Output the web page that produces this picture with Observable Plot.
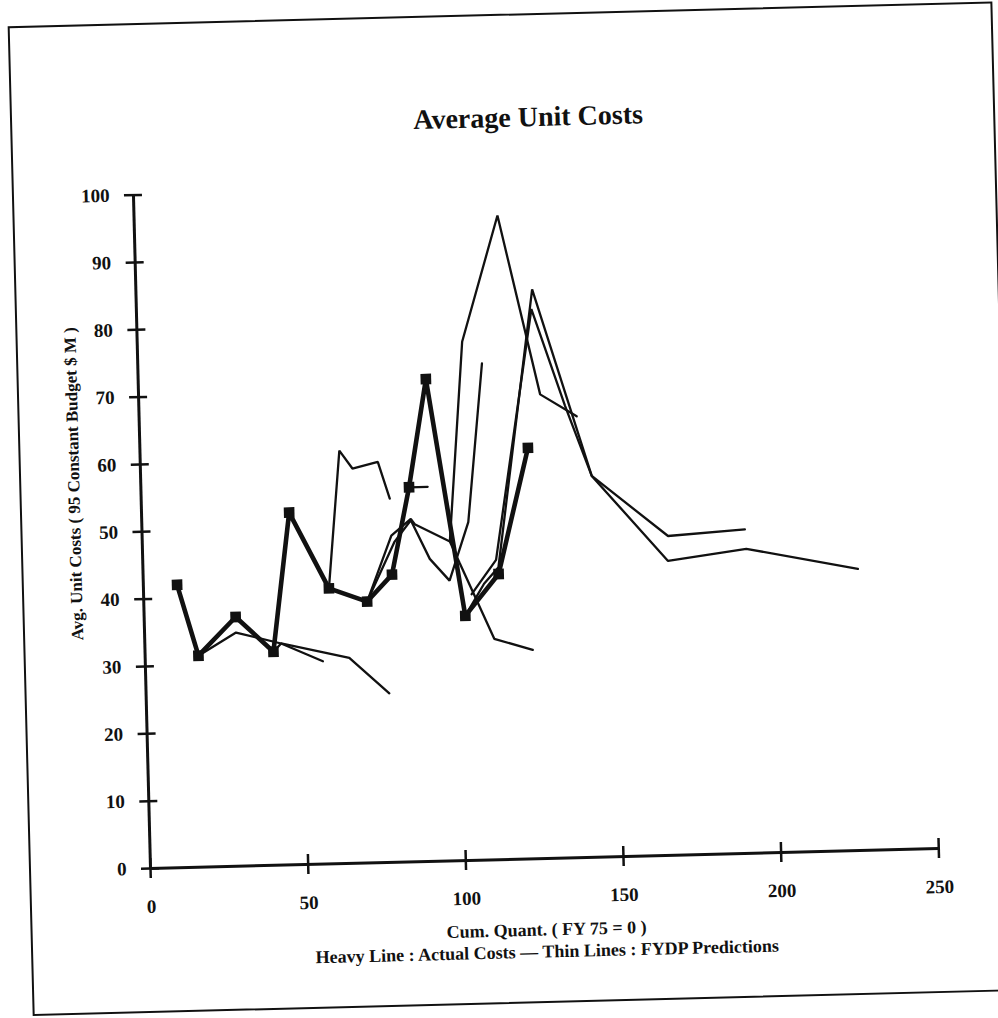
<!DOCTYPE html>
<html>
<head>
<meta charset="utf-8">
<script src="https://cdn.jsdelivr.net/npm/d3@7"></script>
<script src="https://cdn.jsdelivr.net/npm/@observablehq/plot@0.6"></script>
<style>
  html, body { margin: 0; padding: 0; background: #fff; overflow: hidden; width: 998px; height: 1018px; }
  #page { position: absolute; left: 0; top: 0; width: 998px; height: 1018px;
          transform-origin: 150px 868px; transform: rotate(-1.45deg); }
  .frame { position: absolute; left: 29px; top: 23px; width: 985px; height: 990px;
           border: 2.5px solid #111; box-sizing: border-box; }
  .txt { position: absolute; white-space: nowrap; font-family: "Liberation Serif", serif;
         font-weight: bold; color: #111; transform: translate(-50%, -50%); }
  #chart { position: absolute; left: 0; top: 0; }
</style>
</head>
<body>
<div id="page">
  <div class="frame"></div>
  <div id="chart"></div>
  <div class="txt" id="title" style="left:547px; top:127px; font-size:28px;">Average Unit Costs</div>
  <div class="txt" id="ylabel" style="left:84px; top:482px; font-size:17px; transform: translate(-50%, -50%) rotate(-90deg);">Avg. Unit Costs ( 95 Constant Budget $ M )</div>
  <div class="txt" id="xlabel" style="left:545px; top:940px; font-size:18px;">Cum. Quant. ( FY 75 = 0 )</div>
  <div class="txt" id="note" style="left:545px; top:962px; font-size:18px;">Heavy Line : Actual Costs — Thin Lines : FYDP Predictions</div>
</div>
<script>
// ---- Data ----
const xTicks = [0, 50, 100, 150, 200, 250];
const yTicks = [0, 10, 20, 30, 40, 50, 60, 70, 80, 90, 100];

// Heavy line: actual costs
const actualQuant = [10.7, 16.9, 29.0, 40.7, 46.8, 58.8, 70.8, 78.9, 85.0, 91.2, 101.8, 112.7, 123.0];
const actualCost  = [42.0, 31.4, 37.0, 31.7, 52.3, 40.9, 38.8, 42.7, 55.6, 71.6, 36.3, 42.4, 61.0];

// Thin lines: FYDP predictions
const pred1Quant = [16.9, 29.0, 43.2, 56.3];
const pred1Cost  = [31.4, 34.7, 32.9, 30.1];

const pred2Quant = [40.7, 43.2, 64.7, 77.1];
const pred2Cost  = [31.7, 32.9, 30.5, 25.1];

const pred3Quant = [58.8, 63.2, 67.2, 75.3, 78.8];
const pred3Cost  = [40.9, 61.3, 58.6, 59.5, 54.0];

const pred4Quant = [70.8, 80.0, 85.3, 91.0, 97.1, 103.5, 109.1];
const pred4Cost  = [38.8, 47.6, 50.7, 44.9, 41.6, 50.2, 73.7];

const pred5Quant = [70.8, 79.0, 85.3, 86.5, 97.5, 100.4, 110.8, 122.9];
const pred5Cost  = [38.8, 48.5, 50.9, 50.1, 47.4, 44.2, 32.8, 31.0];

const pred6Quant = [85.0, 90.9];
const pred6Cost  = [55.6, 55.6];

const pred7Quant = [97.5, 103.0, 115.2, 127.3, 138.7];
const pred7Cost  = [47.4, 77.0, 95.6, 68.9, 65.5];

const pred8Quant = [101.8, 108.0, 112.7, 125.6, 143.0, 166.5, 191.4, 226.6];
const pred8Cost  = [36.3, 41.0, 43.4, 84.5, 56.6, 43.7, 45.2, 41.8];

const pred9Quant = [104.0, 112.0, 125.2, 135.1, 143.0, 166.7, 191.1];
const pred9Cost  = [39.5, 44.5, 81.6, 67.1, 56.6, 47.4, 48.1];

// ---- Build tables ----
const rows = (q, c) => q.map((x, i) => ({quant: x, cost: c[i]}));
const actual = rows(actualQuant, actualCost);
const predictions = [
  rows(pred1Quant, pred1Cost), rows(pred2Quant, pred2Cost), rows(pred3Quant, pred3Cost),
  rows(pred4Quant, pred4Cost), rows(pred5Quant, pred5Cost), rows(pred6Quant, pred6Cost),
  rows(pred7Quant, pred7Cost), rows(pred8Quant, pred8Cost), rows(pred9Quant, pred9Cost)
];

const ink = "#111";

const chart = Plot.plot({
  width: 998,
  height: 1018,
  marginLeft: 150,
  marginRight: 59.5,
  marginTop: 194.4,
  marginBottom: 150,
  x: {domain: [0, 250]},
  y: {domain: [0, 100]},
  style: {fontFamily: "'Liberation Serif', serif", fontSize: "19px", fontWeight: "bold", color: ink, background: "transparent", overflow: "visible"},
  marks: [
    // axis lines
    Plot.ruleX([0], {y1: 0, y2: 100, stroke: ink, strokeWidth: 3}),
    Plot.ruleY([0], {x1: 0, x2: 250, stroke: ink, strokeWidth: 3}),
    // crossing tick marks
    Plot.ruleY(yTicks, {x1: 0, x2: 0, insetLeft: -9, insetRight: -9, stroke: ink, strokeWidth: 2.5}),
    Plot.ruleX(xTicks, {y1: 0, y2: 0, insetTop: -10, insetBottom: -10, stroke: ink, strokeWidth: 2.5}),
    // tick labels
    Plot.axisY({ticks: yTicks, tickSize: 0, tickPadding: 24, label: null}),
    Plot.axisX({ticks: xTicks, tickSize: 0, tickPadding: 31, label: null}),
    // thin prediction lines
    ...predictions.map(p => Plot.line(p, {x: "quant", y: "cost", stroke: ink, strokeWidth: 2.3, strokeLinejoin: "miter"})),
    // heavy actual line with square markers
    Plot.line(actual, {x: "quant", y: "cost", stroke: ink, strokeWidth: 4.6}),
    Plot.dot(actual, {x: "quant", y: "cost", symbol: "square", r: 6, fill: ink, stroke: null})
  ]
});
document.getElementById("chart").appendChild(chart);
</script>
</body>
</html>
